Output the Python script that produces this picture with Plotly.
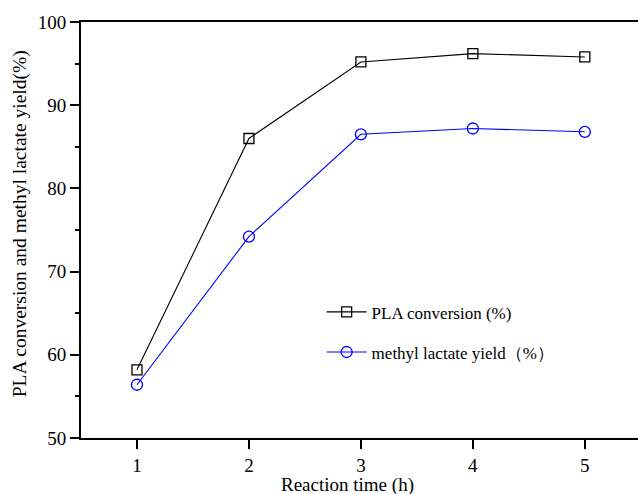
import plotly.graph_objects as go

# Reaction time (h)
reaction_time = [1, 2, 3, 4, 5]
# PLA conversion (%)
pla_conversion = [58.2, 86.0, 95.2, 96.2, 95.8]
# methyl lactate yield (%)
ml_yield = [56.4, 74.2, 86.5, 87.2, 86.8]

x_ticks = [1, 2, 3, 4, 5]
y_ticks = [50, 60, 70, 80, 90, 100]

FONT = "Liberation Serif"

fig = go.Figure()
fig.add_trace(go.Scatter(
    x=reaction_time, y=pla_conversion, mode="lines+markers",
    name="PLA conversion (%)", legendgroup="a",
    line=dict(color="#000000", width=1.1),
    marker=dict(symbol="square-open", size=10, color="#000000",
                line=dict(width=1.3, color="#000000")),
))
fig.add_trace(go.Scatter(
    x=reaction_time, y=ml_yield, mode="lines+markers",
    name="methyl lactate yield（%）", legendgroup="b",
    line=dict(color="#0000FF", width=1.1),
    marker=dict(symbol="circle-open", size=11, color="#0000FF",
                line=dict(width=1.3, color="#0000FF")),
))

fig.update_layout(
    width=638, height=494,
    margin=dict(l=81, r=0, t=22, b=56),
    paper_bgcolor="white", plot_bgcolor="white",
    font=dict(family=FONT, size=19, color="#000000"),
    showlegend=True,
    legend=dict(
        x=0.432, y=0.254, xanchor="left", yanchor="middle",
        font=dict(family=FONT, size=17, color="#000000"),
        bgcolor="rgba(0,0,0,0)", tracegroupgap=15, itemwidth=40,
    ),
    xaxis=dict(
        range=[0.5, 5.475], tickvals=x_ticks, ticks="outside", ticklen=9,
        tickwidth=1.6, tickcolor="#000000", showline=True, linewidth=2,
        linecolor="#000000", mirror=True, showgrid=False, zeroline=False,
        tickfont=dict(family=FONT, size=19),
    ),
    yaxis=dict(
        range=[50, 100], tickvals=y_ticks, ticks="outside", ticklen=9,
        tickwidth=1.6, tickcolor="#000000", showline=True, linewidth=2,
        linecolor="#000000", mirror=False, showgrid=False, zeroline=False,
        tickfont=dict(family=FONT, size=19),
        minor=dict(dtick=5, ticks="outside", ticklen=4, tickwidth=1.6,
                   tickcolor="#000000", showgrid=False),
    ),
    annotations=[
        dict(text="Reaction time (h)", xref="paper", yref="paper",
             x=(347 - 81) / 557, y=-(485 - 438.3) / 416.3,
             xanchor="center", yanchor="middle", showarrow=False,
             font=dict(family=FONT, size=19)),
        dict(text="PLA conversion and methyl lactate yield(%)",
             xref="paper", yref="paper", textangle=-90,
             x=-(81 - 20) / 557, y=(438.3 - 224.5) / 416.3,
             xanchor="center", yanchor="middle", showarrow=False,
             font=dict(family=FONT, size=19.5)),
    ],
)

fig.write_html("out.html")
